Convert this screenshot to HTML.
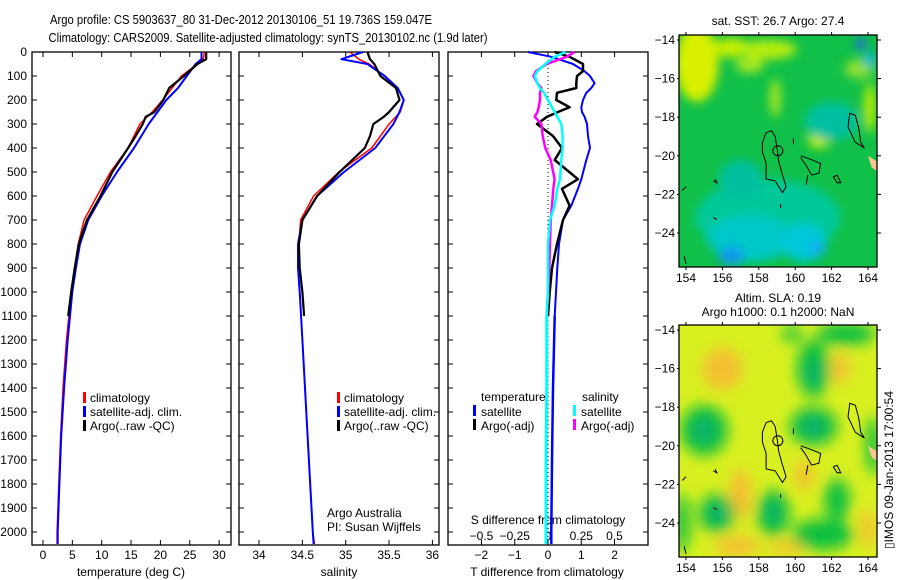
<!DOCTYPE html>
<html><head><meta charset="utf-8"><style>
html,body{margin:0;padding:0;background:#fff;}
svg{display:block;font-family:"Liberation Sans",Arial,sans-serif;}
</style></head><body>
<svg id="c" width="900" height="580" viewBox="0 0 900 580" xmlns="http://www.w3.org/2000/svg">
<defs>
<filter id="bl1" x="-50%" y="-50%" width="200%" height="200%"><feGaussianBlur stdDeviation="5"/></filter>
<filter id="bl2" x="-50%" y="-50%" width="200%" height="200%"><feGaussianBlur stdDeviation="7"/></filter>
<clipPath id="m1c"><rect x="679" y="35" width="198" height="232"/></clipPath>
<clipPath id="m2c"><rect x="679" y="325" width="198" height="232"/></clipPath>
</defs>
<text x="241" y="24" font-size="13" text-anchor="middle" textLength="382" lengthAdjust="spacingAndGlyphs">Argo profile: CS 5903637_80 31-Dec-2012 20130106_51 19.736S 159.047E</text>
<text x="268" y="42" font-size="13" text-anchor="middle" textLength="439" lengthAdjust="spacingAndGlyphs">Climatology: CARS2009. Satellite-adjusted climatology: synTS_20130102.nc (1.9d later)</text>
<g id="plots"></g>
<g id="maps"></g>
<text transform="translate(893,470) rotate(-90)" font-size="12" text-anchor="middle">▯IMOS 09-Jan-2013 17:00:54</text>
</svg>
<script>
// ---- data (depth in dbar) ----
const climDepth = [0,30,50,100,150,200,250,300,400,500,600,700,800,900,1000,1200,1400,1600,1800,2000,2050];
const climT = [27.5,27.3,26.3,23.6,22.0,20.4,18.6,16.5,14.5,11.5,9.2,7.0,6.0,5.4,4.8,4.0,3.4,3.0,2.7,2.4,2.4];
const satT  = [27.0,27.0,26.0,24.5,23.0,21.0,19.5,18.0,15.5,12.6,10.0,7.7,6.3,5.6,5.0,4.2,3.6,3.1,2.8,2.5,2.5];
const climS = [35.05,35.15,35.27,35.45,35.6,35.67,35.63,35.5,35.3,34.92,34.63,34.48,34.46,34.45,34.47,34.5,34.53,34.56,34.59,34.62,34.64];
const satS  = [35.2,34.95,35.25,35.45,35.6,35.67,35.62,35.55,35.34,34.98,34.67,34.5,34.45,34.45,34.47,34.5,34.53,34.56,34.59,34.62,34.63];
const argoDepth = [0,30,50,100,150,200,250,270,300,350,400,500,600,700,800,900,1000,1100];
const argoT = [27.8,27.8,26.3,24.0,21.5,20.5,19.0,17.5,17.0,15.8,14.5,11.8,9.8,7.5,6.1,5.4,4.8,4.3];
const argoS = [35.25,35.28,35.33,35.4,35.58,35.62,35.5,35.44,35.32,35.28,35.22,34.93,34.67,34.5,34.46,34.47,34.5,34.52];
const dDepth = [0,20,50,80,100,130,150,170,200,230,250,270,300,350,400,450,530,570,640,700,800,900,1000,1100];
const dTsat  = [-0.6,0.1,0.75,1.1,1.26,1.4,1.3,1.15,1.05,1.0,1.02,1.1,1.17,1.2,1.26,1.15,1.0,0.9,0.7,0.45,0.33,0.28,0.24,0.2];
const dTargo = [0.2,0.65,1.05,1.05,0.87,0.85,0.85,0.27,0.25,0.65,0.3,-0.03,-0.33,0.15,0.42,0.2,0.9,0.42,0.65,0.45,0.27,0.12,0.05,0.0];
const dSsat  = [0.13,0.05,-0.02,-0.08,-0.1,-0.08,-0.06,-0.03,0,0.03,0.05,0.07,0.1,0.11,0.11,0.1,0.09,0.07,0.05,0.015,0,0,0,-0.01];
const dSargo = [0.2,0.14,-0.01,-0.09,-0.11,-0.08,-0.05,-0.06,-0.06,-0.07,-0.08,-0.1,-0.05,-0.04,-0.02,0.02,0.05,0.04,0.03,0.02,0.015,0.01,0.0,-0.01];
const deepDepth = [1100,1400,1700,2000,2050];
const deepTsat = [0.2,0.15,0.12,0.1,0.1];
const deepSsat = [-0.01,-0.01,-0.015,-0.015,-0.015];
const depthTicks = [0,100,200,300,400,500,600,700,800,900,1000,1100,1200,1300,1400,1500,1600,1700,1800,1900,2000];
const tTicks = [0,5,10,15,20,25,30];
const sTicks = [34,34.5,35,35.5,36];
const dtTicks = [-2,-1,0,1,2];
const dsTicks = [-0.5,-0.25,0,0.25,0.5];

const NS='http://www.w3.org/2000/svg';
function mk(tag, attrs, parent){const e=document.createElementNS(NS,tag);for(const k in attrs)e.setAttribute(k,attrs[k]);parent.appendChild(e);return e;}
const plots=document.getElementById('plots');
const TOP=52, BOT=545;
const yD = d => TOP + d*0.24;
const P1={x0:32,x1:231}, P2={x0:239,x1:439}, P3={x0:448,x1:648};
const xT = v => 43 + v*5.87;
const xS = v => 259 + (v-34)*86.7;
const xDT = v => 548 + v*33.3;
const xDS = v => 548 + v*133;

function frame(P,name){
  const r=mk('rect',{x:P.x0,y:TOP,width:P.x1-P.x0,height:BOT-TOP,fill:'none',stroke:'#000','stroke-width':1.3},plots);
  
  
  depthTicks.forEach(d=>{
    mk('line',{x1:P.x0,x2:P.x0+5,y1:yD(d),y2:yD(d),stroke:'#000'},plots);
    mk('line',{x1:P.x1,x2:P.x1-5,y1:yD(d),y2:yD(d),stroke:'#000'},plots);
  });
}
function xticks(P,ticks,fx,labelY,name,top,bottom){
  ticks.forEach(v=>{
    const x=fx(v);
    if(top) mk('line',{x1:x,x2:x,y1:TOP,y2:TOP+5,stroke:'#000'},plots);
    if(bottom) mk('line',{x1:x,x2:x,y1:BOT,y2:BOT-5,stroke:'#000'},plots);
    if(labelY){const t=mk('text',{x:x,y:labelY,'font-size':12,'text-anchor':'middle'},plots);t.textContent=String(v).replace('-','\u2212');
      
      }
  });
}
function line(depths,vals,fx,color,w,name){
  const pts=depths.map((d,i)=>fx(vals[i]).toFixed(1)+','+yD(d).toFixed(1)).join(' ');
  const p=mk('polyline',{points:pts,fill:'none',stroke:color,'stroke-width':w,'stroke-linejoin':'round'},plots);
  
  
}
function txt(x,y,s,name,anchor){const t=mk('text',{x:x,y:y,'font-size':12,'text-anchor':anchor||'start'},plots);t.textContent=s;
  
  return t;}
function mark(x,y,color){const r=mk('rect',{x:x,y:y-11,width:3,height:11,fill:color},plots);
  
  }

frame(P1,'temperature-panel'); frame(P2,'salinity-panel'); frame(P3,'difference-panel');
depthTicks.forEach(d=>{const t=txt(27,yD(d)+4,String(d),'depth-tick-label','end');});
xticks(P1,tTicks,xT,559,'temperature-tick-label',true,true);
xticks(P2,sTicks,xS,559,'salinity-tick-label',true,true);
xticks(P3,dtTicks,xDT,559,'t-diff-tick-label',true,false);
xticks(P3,dsTicks,xDS,540,'s-diff-tick-label',false,true);
txt(131,576,'temperature (deg C)','temperature-axis-title','middle');
txt(339,576,'salinity','salinity-axis-title','middle');
txt(547,576,'T difference from climatology','t-diff-axis-title','middle');
txt(548,524,'S difference from climatology','s-diff-axis-title','middle');

line(climDepth,climT,xT,'#f00',1.5,'temperature-climatology-line');
line(climDepth,satT,xT,'#00f',2,'temperature-satellite-line');
line(argoDepth,argoT,xT,'#000',2.2,'temperature-argo-line');
line(climDepth,climS,xS,'#f00',1.5,'salinity-climatology-line');
line(climDepth,satS,xS,'#00f',2,'salinity-satellite-line');
line(argoDepth,argoS,xS,'#000',2.2,'salinity-argo-line');
const z=mk('line',{x1:xDT(0),x2:xDT(0),y1:TOP,y2:BOT,stroke:'#000','stroke-dasharray':'1,3'},plots);


line(dDepth,dTsat,xDT,'#00f',2,'t-diff-satellite-line');
line(deepDepth,deepTsat,xDT,'#00f',2.5,'t-diff-satellite-deep-line');
line(dDepth,dTargo,xDT,'#000',2.5,'t-diff-argo-line');
line(dDepth,dSargo,xDS,'#f0f',2.5,'s-diff-argo-line');
line(dDepth,dSsat,xDS,'#0ff',2.5,'s-diff-satellite-line');
line(deepDepth,deepSsat,xDS,'#0ff',3,'s-diff-satellite-deep-line');

[['climatology','#f00'],['satellite-adj. clim.','#00f'],['Argo(..raw -QC)','#000']].forEach((L,i)=>{
  mark(83,403+i*14,L[1]); txt(90,402+i*14,L[0],'legend-entry');
  mark(337,403+i*14,L[1]); txt(344,402+i*14,L[0],'legend-entry');
});
txt(481,401,'temperature','legend-title');
mark(473,416,'#00f'); txt(481,416,'satellite','legend-entry');
mark(473,430,'#000'); txt(481,430,'Argo(-adj)','legend-entry');
txt(582,401,'salinity','legend-title');
mark(573,416,'#0ff'); txt(581,416,'satellite','legend-entry');
mark(573,430,'#f0f'); txt(581,430,'Argo(-adj)','legend-entry');
txt(327,517,'Argo Australia','credit-text');
txt(327,531,'PI: Susan Wijffels','credit-text');

// ---- maps ----
const maps=document.getElementById('maps');
const mLon = l => 686 + (l-154)*18.2;
const mLat0 = (lat,off) => off + (-14-lat)*19.3;
const sstBlobs = [
  [154.6,-15.2,1.2,2.0,'#d8f000'],[156.5,-14.4,1.0,0.5,'#c8f000'],[158.5,-14.5,1.6,0.5,'#b8ee10'],[157.5,-15.3,0.8,0.4,'#a8e820'],
  [158.9,-17,0.3,1.0,'#a8e820'],[161.3,-19.2,0.6,0.4,'#c8f000'],[164.1,-17.5,0.3,1.3,'#c8f000'],[163.5,-15.5,0.8,0.5,'#90e030'],
  [158.5,-23.2,4.0,2.0,'#00c89a'],[157.5,-24.3,2.3,1.2,'#00c8c8'],[160.5,-24.5,1.2,1.0,'#00c8d8'],[156.5,-25.2,0.7,0.5,'#1098f0'],
  [161.2,-24.8,0.5,0.4,'#10b0f0'],[157,-21.2,1.2,1.0,'#00c0a0'],[162,-18.2,1.5,1.0,'#00c0a0'],[163.6,-14.2,0.3,0.3,'#2060f0'],[164.1,-15.0,0.3,0.4,'#00b0e8']];
const slaGreen = [[155,-19.2,1.3,1.3],[161,-19,1.3,1.0],[161,-16,0.9,1.5],[155.7,-23.5,1.0,1.0],[158.8,-23.5,0.9,1.2],[161.5,-24.6,1.7,0.8],[162.3,-22.8,0.7,1.1],[162.8,-14.2,1.6,0.6],[164.3,-20,0.4,1.5],[153.8,-24,0.4,1.5],[159.8,-14.2,0.5,0.4]];
const slaCore = [[155,-19.2,0.6,0.6],[161,-19,0.6,0.5],[161,-16.2,0.4,0.6],[155.7,-23.5,0.5,0.5],[158.8,-23.4,0.4,0.5]];
const slaOrange = [[156,-16,1.1,1.1],[157,-22.5,0.6,1.3],[156.8,-25.2,1.3,0.5],[160.5,-21.5,0.5,0.8],[162.5,-16,0.5,0.8],[164,-24.3,0.4,1.0],[159.5,-25.3,1.0,0.3]];
function mkm(tag,a,p){return mk(tag,a,p||maps);}
function mapFrame(idx,name){
  const g=mkm('g',{'clip-path':'url(#m'+idx+'c)'});
  
  
  return g;
}
function outline(g,off){
  const paths=[
    [[158.2,-19.3],[158.4,-18.8],[158.7,-18.7],[158.9,-19.0],[159.0,-19.6],[159.1,-20.3],[159.3,-21.0],[159.5,-21.6],[159.3,-21.9],[158.9,-21.3],[158.4,-21.2],[158.4,-20.4],[158.2,-19.8],[158.2,-19.3]],
    [[160.3,-20.0],[160.9,-20.2],[161.4,-20.4],[161.3,-20.9],[160.9,-21.0],[160.6,-20.5],[160.3,-20.1]],
    [[162.3,-21.0],[162.5,-21.4],[162.3,-21.4],[162.1,-21.1],[162.3,-21.0]],
    [[162.9,-18.5],[163.0,-17.8],[163.3,-17.9],[163.5,-18.6],[163.6,-19.3],[163.8,-19.6],[163.3,-19.3],[162.9,-18.5]],
    [[155.6,-21.2],[155.7,-21.4],[155.5,-21.3]],
    [[160.7,-21.0],[160.6,-21.5]],[[159.9,-19.1],[159.9,-19.4]],[[159.2,-22.5],[159.2,-22.7]],[[155.5,-23.2],[155.7,-23.3]],
    [[153.8,-21.8],[154.0,-21.6]],[[153.9,-25.2],[154.0,-25.6]]
  ];
  paths.forEach(p=>{mkm('polyline',{points:p.map(q=>mLon(q[0]).toFixed(1)+','+mLat0(q[1],off).toFixed(1)).join(' '),fill:'none',stroke:'#000','stroke-width':1},g);});
  mkm('polygon',{points:[[164.0,-20.0],[164.5,-20.3],[164.5,-20.8],[164.2,-20.6]].map(q=>mLon(q[0])+','+mLat0(q[1],off)).join(' '),fill:'#f8c890'},g);
  mkm('circle',{cx:mLon(159.047),cy:mLat0(-19.736,off),r:5,fill:'none',stroke:'#000','stroke-width':1},g);
}
function axes(off,y0,y1){
  mkm('rect',{x:679,y:y0,width:198,height:y1-y0,fill:'none',stroke:'#000','stroke-width':1.3});
  [-14,-16,-18,-20,-22,-24].forEach(l=>{const y=mLat0(l,off);
    mkm('line',{x1:677,x2:679,y1:y,y2:y,stroke:'#000'});mkm('line',{x1:877,x2:881,y1:y,y2:y,stroke:'#000'});
    const t=mkm('text',{x:675,y:y+4,'font-size':12,'text-anchor':'end'});t.textContent=String(l).replace('-','\u2212');
    
    });
  [154,156,158,160,162,164].forEach(l=>{const x=mLon(l);
    mkm('line',{x1:x,x2:x,y1:y0-3,y2:y0,stroke:'#000'});mkm('line',{x1:x,x2:x,y1:y1,y2:y1+3,stroke:'#000'});
    const t=mkm('text',{x:x,y:y1+15,'font-size':12,'text-anchor':'middle'});t.textContent=l;
    
    });
}
let g1=mapFrame(1,'sst-map');
mkm('rect',{x:679,y:35,width:198,height:232,fill:'#10c048'},g1);
const bg1=mkm('g',{filter:'url(#bl1)'},g1);
sstBlobs.forEach(b=>mkm('ellipse',{cx:mLon(b[0]),cy:mLat0(b[1],40),rx:b[2]*18.2,ry:b[3]*19.3,fill:b[4]},bg1));
outline(g1,40); axes(40,35,267);
let t1=mkm('text',{x:778,y:25,'font-size':12,'text-anchor':'middle'});t1.textContent='sat. SST: 26.7 Argo: 27.4';

let g2=mapFrame(2,'sla-map');
mkm('rect',{x:679,y:325,width:198,height:232,fill:'#d8f020'},g2);
const bg2=mkm('g',{filter:'url(#bl2)'},g2);
slaOrange.forEach(b=>mkm('ellipse',{cx:mLon(b[0]),cy:mLat0(b[1],330),rx:b[2]*18.2,ry:b[3]*19.3,fill:'#f4c030'},bg2));
slaGreen.forEach(b=>mkm('ellipse',{cx:mLon(b[0]),cy:mLat0(b[1],330),rx:b[2]*18.2,ry:b[3]*19.3,fill:'#10c040'},bg2));
slaCore.forEach(b=>mkm('ellipse',{cx:mLon(b[0]),cy:mLat0(b[1],330),rx:b[2]*18.2,ry:b[3]*19.3,fill:'#10b070'},bg2));
outline(g2,330); axes(330,325,557);
let t2=mkm('text',{x:778,y:302,'font-size':12,'text-anchor':'middle'});t2.textContent='Altim. SLA: 0.19';

let t3=mkm('text',{x:778,y:316,'font-size':12,'text-anchor':'middle'});t3.textContent='Argo h1000: 0.1 h2000: NaN';

</script>
</body></html>
